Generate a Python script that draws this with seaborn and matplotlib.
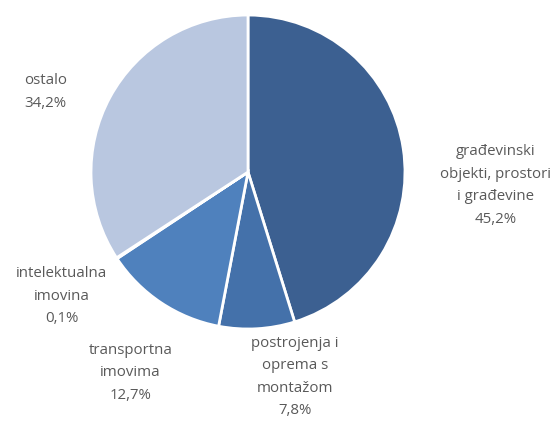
import matplotlib as mpl
mpl.use('Agg')
import matplotlib.pyplot as plt
import seaborn as sns

sns.set_theme(style="white")
plt.rcParams['font.family'] = ['Open Sans', 'DejaVu Sans']

# Data
categories = ['građevinski\nobjekti, prostori\ni građevine',
              'postrojenja i\noprema s\nmontažom',
              'transportna\nimovima',
              'intelektualna\nimovina',
              'ostalo']
shares = [45.2, 7.8, 12.7, 0.1, 34.2]
share_labels = ['45,2%', '7,8%', '12,7%', '0,1%', '34,2%']

colors = ['#3C6091', '#4471AA', '#4F81BD', '#9DB3D8', '#B9C7E0']
# label anchor points in pie units (radius = 1)
label_pos = [(1.575, -0.085), (0.30, -1.305), (-0.75, -1.28),
             (-1.185, -0.79), (-1.29, 0.51)]

fig = plt.figure(figsize=(5.56, 4.21), dpi=100)
ax = fig.add_axes([0.1637, 0.2185, 0.5647, 0.7458])

ax.pie(shares, colors=colors, startangle=90, counterclock=False,
       wedgeprops=dict(edgecolor='white', linewidth=2))

for cat, pct, (x, y) in zip(categories, share_labels, label_pos):
    ax.text(x, y, f'{cat}\n{pct}', ha='center', va='center', fontsize=10.8,
            color='#595959', linespacing=1.68)

ax.set_xlim(-1, 1)
ax.set_ylim(-1, 1)
ax.set_aspect('equal')
ax.axis('off')

fig.savefig('out.png', dpi=100)
